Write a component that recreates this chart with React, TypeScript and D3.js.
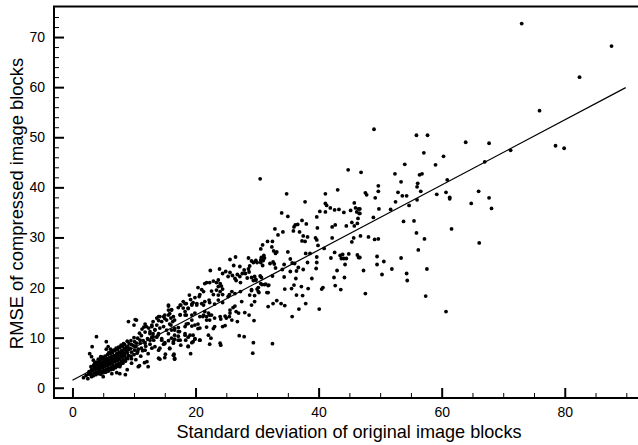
import * as d3 from "d3";
import { useEffect, useRef } from "react";

// [std dev, rmse], grouped by region
const upperPoints: number[][] = [
  [73.0,72.7],[87.6,68.2],[82.4,62.0],[75.9,55.3],[78.5,48.3],[79.9,47.8],[71.2,47.4],[68.1,35.8],
  [49.0,51.6],[55.9,50.4],[57.7,50.4],[63.9,49.0],[67.7,48.8],[57.1,46.9],[60.3,46.2],[54.0,44.6],
  [59.0,44.5],[67.0,45.1],[46.9,43.0],[52.4,42.7],[56.4,42.5],[56.8,42.7],[60.9,41.5],[53.4,41.1],
  [56.1,40.8],[56.0,40.1],[49.7,40.3],[49.7,39.2],[47.6,38.9],[47.8,38.5],[52.9,39.0],[56.6,39.2],
  [53.6,38.3],[54.3,38.3],[60.7,39.0],[59.2,38.6],[66.0,39.2],[61.3,38.0],[61.3,37.7],[49.2,37.9],
  [56.0,37.5],[52.5,37.1],[64.8,36.8],[67.7,37.9],[54.7,36.4],[49.8,35.7],[51.7,35.6],[46.7,35.7],
  [46.7,34.8],[48.9,34.0],[53.8,33.2],[55.5,33.3],[61.6,31.7],[55.9,30.9],[46.8,30.3],[48.1,30.1],
  [49.1,29.6],[49.7,29.7],[57.2,29.7],[66.1,28.9],[56.2,27.5],[49.5,26.2],[46.7,26.0],[53.4,25.9],
  [50.6,25.2],[49.5,24.6],[47.3,23.4],[51.9,23.7],[57.6,23.7],[50.3,22.6],[54.3,22.8],[54.4,21.4],
  [47.6,18.8],[57.4,18.3],[60.7,15.2],
];

const middlePoints: number[][] = [
  [30.5,41.7],[44.8,43.5],[43.1,39.5],[41.1,38.7],[34.8,38.7],[37.8,37.1],[41.1,36.8],[41.3,36.4],
  [41.9,35.9],[42.6,35.5],[43.3,35.6],[44.1,35.0],[45.2,35.4],[45.8,36.9],[46.0,35.9],[46.5,35.7],
  [46.2,35.1],[46.6,34.8],[40.2,35.2],[41.1,35.1],[39.7,34.1],[34.0,34.9],[35.0,34.2],[37.3,33.4],
  [38.0,32.7],[36.6,32.6],[36.2,32.5],[36.0,32.1],[35.9,31.3],[36.9,31.1],[39.8,31.9],[42.2,32.1],
  [42.7,32.5],[44.5,32.3],[45.4,33.0],[46.4,33.8],[46.3,32.8],[45.8,32.3],[32.9,31.7],[34.2,31.1],
  [33.4,30.5],[37.5,30.3],[38.2,30.1],[37.3,29.3],[37.8,29.2],[39.5,29.9],[39.7,29.5],[42.2,29.9],
  [45.7,29.9],[45.4,29.1],[39.9,28.4],[40.9,27.8],[31.7,29.2],[32.5,29.2],[30.9,28.5],[32.4,28.1],
  [32.7,27.3],[33.2,27.1],[33.0,26.8],[30.6,27.7],[35.0,27.1],[37.9,26.8],[38.6,26.8],[31.1,26.4],
  [30.7,26.0],[31.2,25.9],[30.6,25.5],[31.0,25.4],[30.6,25.0],[30.9,24.4],[32.6,25.1],[32.1,24.8],
  [32.8,24.7],[33.0,23.9],[34.4,24.6],[34.1,23.6],[35.4,25.7],[36.1,24.8],[35.7,24.9],[36.7,24.0],
  [36.4,23.3],[37.5,23.6],[35.4,23.2],[38.2,25.0],[39.7,26.1],[39.7,25.0],[39.6,23.8],[42.0,25.9],
  [42.6,27.0],[43.5,26.4],[43.9,26.6],[44.9,26.7],[43.7,25.8],[44.5,25.8],[44.1,25.8],[44.3,24.6],
  [46.3,26.5],[46.5,26.0],[43.0,23.4],[34.4,22.1],[32.5,22.3],[36.3,21.8],[38.9,21.8],[42.5,22.0],
  [44.2,22.0],[30.7,22.0],[29.1,22.0],[29.8,21.5],[30.8,20.6],[31.2,20.6],[31.8,20.4],[29.1,19.4],
  [30.0,19.7],[30.3,19.0],[31.8,19.0],[29.6,18.4],[33.9,16.8],[34.5,16.4],[34.5,19.7],[35.6,19.8],
  [36.0,20.5],[37.2,20.2],[38.3,19.8],[36.4,18.5],[37.4,18.4],[40.5,19.7],[40.7,20.0],[42.7,20.4],
  [43.6,19.6],[37.9,16.8],[36.8,15.7],[40.1,15.7],[35.7,14.2],
];

const lowerPoints: number[][] = [
  [26.5,26.1],[25.6,25.6],[28.6,25.9],[22.4,23.4],[23.9,23.7],[24.9,23.2],[25.6,23.0],[24.4,22.8],
  [26.2,24.4],[27.2,24.2],[28.8,24.3],[29.1,25.3],[29.8,25.4],[29.4,25.0],[30.0,25.0],[27.9,23.5],
  [28.6,23.7],[28.7,23.1],[28.1,22.8],[27.6,22.8],[26.8,22.6],[27.2,22.2],[26.4,21.8],[26.6,21.4],
  [27.3,21.0],[26.0,22.4],[25.3,22.2],[28.4,21.9],[29.6,22.2],[29.4,21.4],[30.5,22.3],[29.8,21.6],
  [30.6,20.8],[31.4,20.7],[31.9,20.5],[31.6,19.0],[30.2,20.0],[29.1,19.6],[30.2,19.2],[28.8,18.5],
  [22.9,21.3],[23.7,21.5],[22.3,21.0],[21.5,20.8],[21.8,21.0],[23.4,21.0],[24.0,20.8],[24.2,20.3],
  [23.7,20.2],[24.4,19.7],[23.4,19.5],[24.0,19.2],[24.4,18.6],[23.7,18.5],[20.4,20.0],[21.0,19.6],
  [21.3,19.2],[20.7,18.6],[19.9,18.0],[20.6,18.2],[19.0,18.5],[19.2,17.6],[19.6,17.0],[22.6,19.3],
  [22.9,18.6],[22.2,17.5],[21.5,17.2],[21.0,16.8],[20.2,16.5],[23.7,17.5],[23.1,16.7],[24.4,17.0],
  [25.5,18.6],[26.4,18.8],[27.3,19.2],[25.9,19.2],[25.3,18.2],[27.5,17.2],[29.6,17.2],[29.1,16.5],
  [31.8,16.2],[32.6,16.8],[33.2,17.4],[26.1,16.0],[26.4,16.3],[25.6,15.5],[26.6,15.2],[25.6,14.9],
  [28.0,15.0],[28.7,14.5],[27.0,14.9],[24.8,14.3],[25.5,14.2],[24.0,14.2],[24.1,13.7],[25.0,13.9],
  [25.9,13.5],[26.8,13.2],[29.5,13.4],[18.0,17.2],[18.5,16.8],[17.6,16.5],[17.2,16.0],[18.0,15.9],
  [18.8,15.9],[19.4,16.5],[18.3,15.2],[17.5,14.5],[18.5,14.5],[15.6,16.3],[16.1,15.6],[15.6,15.5],
  [15.0,14.5],[15.8,14.8],[16.4,14.2],[16.0,13.9],[15.3,13.5],[16.3,13.2],[15.8,12.7],[15.0,13.8],
  [13.7,13.9],[14.2,14.2],[14.0,13.4],[13.1,13.2],[14.5,13.2],[13.7,12.5],[12.9,12.2],[13.4,11.5],
  [14.2,11.9],[12.6,10.8],[13.1,10.8],[14.0,10.8],[12.9,10.1],[13.7,10.1],[13.2,9.5],[21.5,15.2],
  [22.1,14.9],[21.3,14.5],[22.6,14.5],[21.8,14.2],[23.1,13.9],[22.3,13.5],[20.7,14.2],[19.4,14.5],
  [19.9,14.9],[19.4,13.5],[20.4,12.7],[19.4,12.3],[18.5,12.7],[20.7,11.9],[18.3,12.2],[17.2,12.0],
  [16.6,11.5],[16.1,11.5],[15.3,11.5],[17.4,11.2],[21.8,12.1],[23.1,12.2],[24.4,12.2],[24.8,12.4],
  [18.3,10.5],[18.8,10.1],[19.6,10.5],[19.9,9.7],[20.7,9.5],[19.4,9.0],[18.4,9.5],[17.2,10.3],
  [17.2,9.5],[16.1,9.9],[16.6,9.7],[15.6,9.4],[16.4,8.9],[15.0,9.0],[14.5,9.5],[14.8,8.7],
  [17.6,8.5],[18.8,8.3],[22.1,10.5],[22.5,9.9],[22.3,8.7],[24.0,8.9],[24.1,8.5],[27.1,10.4],
  [27.9,10.2],[29.4,9.0],[32.5,8.8],[29.3,6.9],[15.8,7.9],[14.2,7.9],[13.4,8.2],[12.9,7.9],
  [16.5,6.7],[15.1,6.7],[15.0,6.0],[19.2,6.8],[16.6,5.9],[14.0,5.9],
  [15.6,16.5],[14.0,14.2],[14.8,14.2],[15.6,14.5],[16.1,15.5],[17.5,14.6],[18.3,14.5],[17.5,16.5],
  [18.3,16.8],[18.8,15.8],[19.4,16.7],[20.2,16.8],[21.3,16.5],[22.3,17.0],[16.6,13.5],[16.0,12.5],
  [14.8,12.2],[12.9,12.5],[13.4,11.6],[12.6,11.2],[12.0,12.2],[11.8,12.7],[10.4,13.5],[11.0,9.5],
  [10.4,8.9],[11.8,8.9],[11.2,7.9],[10.6,7.2],[11.8,7.5],[12.6,9.5],[13.1,10.2],[13.9,10.5],
  [16.6,11.8],[17.2,11.2],[15.6,10.8],[16.6,10.5],[17.5,9.5],[16.4,9.2],[15.0,8.8],[14.5,9.8],
  [14.0,7.5],[15.8,7.8],[16.4,6.5],[14.2,5.7],[16.6,5.7],[18.3,10.8],[19.1,10.5],[19.9,9.8],
  [20.7,9.5],[18.8,8.2],[19.6,9.2],[18.8,12.8],[19.9,12.5],[20.4,11.8],[21.8,13.5],[22.9,11.8],
  [21.2,14.2],[22.3,14.5],
];

const clusterPoints: number[][] = [
  [9.1,13.2],[10.2,13.6],[10.0,12.5],[3.9,10.2],[3.2,8.2],[5.5,9.2],[5.8,8.2],[6.2,7.7],[5.5,7.7],
  [2.8,6.8],[3.1,6.2],[3.4,5.5],[4.6,6.2],[4.2,5.7],[5.0,5.7],[1.8,2.0],[3.1,2.2],[5.0,2.2],[6.4,2.8],
  [7.2,3.0],[7.7,2.8],[8.6,2.6],[7.7,4.2],[10.7,4.2],[9.6,5.8],[2.2,2.4],[2.5,1.8],
  [2.6,2.7],[2.7,3.2],[3.0,2.6],[2.9,3.1],[3.1,3.6],[3.0,4.2],[3.4,2.4],[3.5,2.9],[3.3,3.4],[3.5,3.9],[3.4,4.4],[3.6,4.9],
  [3.8,2.6],[3.9,3.1],[3.7,3.6],[3.9,4.1],[3.8,4.6],[3.9,5.1],[4.2,2.8],[4.3,3.3],[4.1,3.8],[4.3,4.3],[4.2,4.8],[4.4,5.2],
  [4.6,2.7],[4.7,3.2],[4.5,3.8],[4.7,4.3],[4.6,4.8],[4.5,5.4],[4.7,5.9],[5.0,3.0],[5.1,3.5],[4.9,4.0],[5.1,4.6],[5.0,5.1],[5.2,5.6],[4.9,6.1],
  [5.4,3.1],[5.5,3.6],[5.3,4.2],[5.5,4.7],[5.4,5.2],[5.6,5.8],[5.3,6.3],[5.8,3.3],[5.9,3.9],[5.7,4.4],[5.9,5.0],[5.8,5.5],[6.0,6.0],[5.7,6.6],[5.9,7.0],
  [6.2,3.6],[6.3,4.1],[6.1,4.7],[6.3,5.2],[6.2,5.8],[6.4,6.3],[6.1,6.8],[6.3,7.3],[6.6,3.7],[6.7,4.3],[6.5,4.8],[6.7,5.4],[6.6,5.9],[6.8,6.4],[6.5,7.0],[6.7,7.5],
  [7.0,4.0],[7.1,4.6],[6.9,5.2],[7.1,5.7],[7.0,6.3],[7.2,6.8],[6.9,7.4],[7.1,7.9],[7.4,4.3],[7.5,4.8],[7.3,5.4],[7.5,5.9],[7.4,6.5],[7.6,7.1],[7.3,7.6],[7.5,8.1],
  [7.8,4.6],[7.9,5.2],[7.7,5.7],[7.9,6.3],[7.8,6.9],[8.0,7.4],[7.7,8.0],[7.9,8.5],[8.2,4.9],[8.3,5.5],[8.1,6.1],[8.3,6.6],[8.2,7.2],[8.4,7.8],[8.1,8.3],[8.3,8.8],
  [8.6,5.3],[8.7,5.9],[8.5,6.4],[8.7,7.0],[8.6,7.6],[8.8,8.1],[8.5,8.6],[9.0,5.8],[9.1,6.4],[8.9,7.0],[9.1,7.6],[9.0,8.2],[9.2,8.8],[8.9,9.3],
  [9.5,6.3],[9.6,7.1],[9.4,7.8],[9.6,8.6],[9.5,9.4],[10.0,6.6],[10.1,7.5],[9.9,8.4],[10.1,9.2],[10.0,10.0],[8.9,3.6],[9.6,4.9],[10.3,5.6],[10.9,4.4],
  [11.1,6.3],[11.7,5.0],[12.1,5.2],[12.3,6.8],[12.3,4.2],[11.0,8.9],[11.4,7.4],[11.5,9.4],[10.6,9.9],[11.2,10.4],[11.8,11.1],[11.6,12.1],[11.3,11.7],
  [12.2,9.8],[12.4,11.9],[10.7,7.7],[10.5,6.9],[10.3,8.2],[10.9,10.9],[12.6,8.7],[11.9,8.3],
];

const fitX = [0, 89.9];
const fitY = [1.5, 59.9];
const xMajor = [0, 20, 40, 60, 80];
const xMinor = [5, 10, 15, 25, 30, 35, 45, 50, 55, 65, 70, 75, 85, 90];
const yMajor = [0, 10, 20, 30, 40, 50, 60, 70];
const yMinor = [2, 4, 6, 8, 12, 14, 16, 18, 22, 24, 26, 28, 32, 34, 36, 38, 42, 44, 46, 48, 52, 54, 56, 58, 62, 64, 66, 68, 72, 74];

const width = 638;
const height = 445;
const left = 54;
const top = 6.5;
const bottom = 398;
const font = "'Liberation Sans', Arial, sans-serif";

export default function App() {
  const gx = useRef<SVGGElement>(null);
  const gy = useRef<SVGGElement>(null);

  const x = d3.scaleLinear([-3, 91.9], [left, width]);
  const y = d3.scaleLinear([-2.05, 76.1], [bottom, top]);
  const points = [...upperPoints, ...middlePoints, ...lowerPoints, ...clusterPoints];
  const fit = d3.line<number>().x((d) => x(d)).y((_, i) => y(fitY[i]));

  useEffect(() => {
    const xg = d3.select(gx.current!);
    xg.selectAll("*").remove();
    xg.append("g")
      .call(d3.axisBottom(x).tickValues(xMinor).tickSize(-5).tickFormat(() => ""))
      .call((g) => g.selectAll(".tick line").attr("stroke-width", 1));
    xg.append("g")
      .call(d3.axisBottom(x).tickValues(xMajor).tickSize(-10).tickPadding(9).tickFormat(d3.format("d")))
      .call((g) => g.selectAll(".tick line").attr("stroke-width", 2));
    xg.selectAll(".domain").remove();
    xg.selectAll("text").attr("font-size", 14).attr("font-family", font);

    const yg = d3.select(gy.current!);
    yg.selectAll("*").remove();
    yg.append("g")
      .call(d3.axisLeft(y).tickValues(yMinor).tickSize(-5).tickFormat(() => ""))
      .call((g) => g.selectAll(".tick line").attr("stroke-width", 1));
    yg.append("g")
      .call(d3.axisLeft(y).tickValues(yMajor).tickSize(-10).tickPadding(9).tickFormat(d3.format("d")))
      .call((g) => g.selectAll(".tick line").attr("stroke-width", 2));
    yg.selectAll(".domain").remove();
    yg.selectAll("text").attr("font-size", 14).attr("font-family", font);
  }, []);

  return (
    <svg width={width} height={height} style={{ position: "absolute", left: 0, top: 0 }}>
      <rect width={width} height={height} fill="white" />
      <g fill="black">
        {points.map((d, i) => (
          <circle key={i} cx={x(d[0])} cy={y(d[1])} r={1.9} />
        ))}
      </g>
      <path d={fit(fitX)!} fill="none" stroke="black" strokeWidth={1.2} />
      <g ref={gx} transform={`translate(0,${bottom})`} />
      <g ref={gy} transform={`translate(${left},0)`} />
      <path d={`M${left},${bottom}V${top}H${width}M${left - 1},${bottom}H${width}`} fill="none" stroke="black" strokeWidth={2} />
      <text x={349} y={438} textAnchor="middle" fontSize={18.1} fontFamily={font}>
        Standard deviation of original image blocks
      </text>
      <text transform="translate(23,203.5) rotate(-90)" textAnchor="middle" fontSize={18.4} fontFamily={font}>
        RMSE of compressed image blocks
      </text>
    </svg>
  );
}
